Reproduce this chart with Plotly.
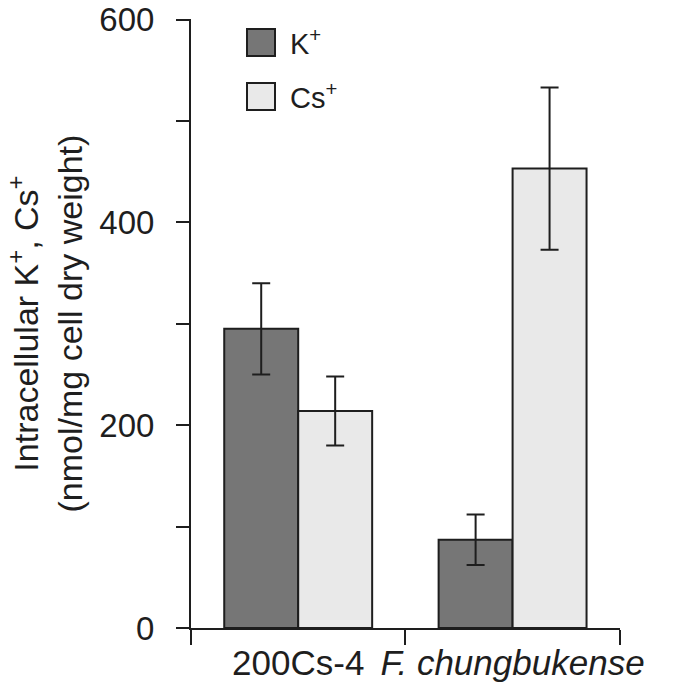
import plotly.graph_objects as go

strains = ['200Cs-4', '<i>F. chungbukense</i>']
k_values = [295, 87]
k_errors = [45, 25]
cs_values = [214, 453]
cs_errors = [34, 80]

y_tickvals = [0, 100, 200, 300, 400, 500, 600]
y_ticktext = ['0', '', '200', '', '400', '', '600']
y_title = 'Intracellular K<sup>+</sup>, Cs<sup>+</sup><br>(nmol/mg cell dry weight)'

ink = '#1e1e1e'
k_color = '#767676'
cs_color = '#e9e9e9'
font = 'Liberation Sans, Arial, sans-serif'


def bar_trace(name, values, errors, color):
    return go.Bar(
        name=name, x=strains, y=values, marker_color=color,
        marker_line=dict(color=ink, width=2),
        error_y=dict(type='data', array=errors, color=ink, thickness=2, width=9),
        showlegend=False)


fig = go.Figure()
fig.add_trace(bar_trace('K+', k_values, k_errors, k_color))
fig.add_trace(bar_trace('Cs+', cs_values, cs_errors, cs_color))

# legend drawn by hand so the swatches are as big as the original
for i, (label, color) in enumerate([('K<sup>+</sup>', k_color), ('Cs<sup>+</sup>', cs_color)]):
    top = 29 + i * 54
    fig.add_shape(type='rect', xref='x domain', yref='paper',
                  x0=(247 - 191) / 429, x1=(275 - 191) / 429,
                  y0=1 - (top - 19) / 609, y1=1 - (top + 27 - 19) / 609,
                  fillcolor=color, line=dict(color=ink, width=2))
    fig.add_annotation(text=label, xref='x domain', yref='paper',
                       x=(288 - 191) / 429, y=1 - (top + 13 - 19) / 609,
                       xanchor='left', yanchor='middle', showarrow=False,
                       font=dict(size=29, color=ink, family=font))

# y title as a rotated annotation (standoff is ignored without automargin)
fig.add_annotation(text=y_title, xref='paper', yref='paper',
                   x=(45 - 191) / 429, y=0.5, xanchor='center', yanchor='middle',
                   textangle=-90, showarrow=False,
                   font=dict(size=34, color=ink, family=font))

fig.update_layout(
    width=675, height=693,
    margin=dict(l=191, r=55, t=19, b=65),
    plot_bgcolor='white', paper_bgcolor='white',
    barmode='group', bargap=0.31, bargroupgap=0,
    font=dict(family=font, size=34, color=ink),
)
fig.update_xaxes(
    type='category', tickson='boundaries', ticks='outside', ticklen=15,
    tickwidth=2, tickcolor=ink, showline=True, linecolor=ink, linewidth=2,
    showgrid=False, range=[-0.5, 1.501], tickangle=0, automargin=False,
    ticklabelstandoff=3, tickfont=dict(size=35))
fig.update_yaxes(
    range=[0, 600.5], tickvals=y_tickvals, ticktext=y_ticktext,
    ticks='outside', ticklen=13, tickwidth=2, tickcolor=ink, automargin=False,
    showline=True, linecolor=ink, linewidth=2, showgrid=False, zeroline=False,
    ticklabelstandoff=15, ticklabeloverflow='allow', tickfont=dict(size=33))

# drop the default body margin so the figure sits flush in the window
fig.write_html('out.html', config={'displayModeBar': False},
               post_script="document.body.style.margin='0';")
